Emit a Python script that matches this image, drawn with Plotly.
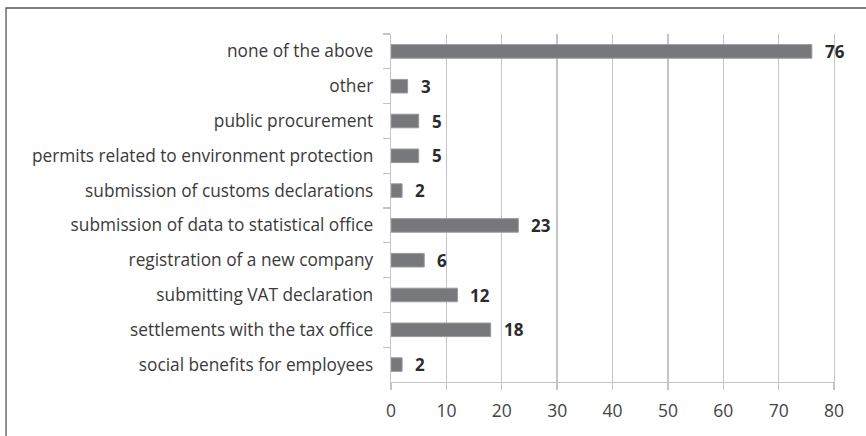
import plotly.graph_objects as go

categories = [
    "none of the above",
    "other",
    "public procurement",
    "permits related to environment protection",
    "submission of customs declarations",
    "submission of data to statistical office",
    "registration of a new company",
    "submitting VAT declaration",
    "settlements with the tax office",
    "social benefits for employees",
]
values = [76, 3, 5, 5, 2, 23, 6, 12, 18, 2]
x_ticks = [0, 10, 20, 30, 40, 50, 60, 70, 80]

FONT = "Open Sans"
GRID = "#c3c3c9"

fig = go.Figure()
fig.add_trace(go.Bar(
    x=values, y=categories, orientation="h",
    marker=dict(color="#77787b", line=dict(color="#9a9a9d", width=1)),
    width=0.39, hoverinfo="skip",
))

for v, c in zip(values, categories):
    fig.add_annotation(
        x=v, y=c, xref="x", yref="y", text=f"<b>{v}</b>", showarrow=False,
        xanchor="left", xshift=11, font=dict(family=FONT, size=17, color="#2b2b2b"),
    )

fig.add_shape(type="rect", xref="paper", yref="paper",
              x0=-0.869, x1=2.0, y0=-0.6, y1=1.0747,
              line=dict(color="#555555", width=1.3), layer="above")

fig.update_layout(
    width=866, height=436,
    margin=dict(l=391, r=32, t=34, b=54, autoexpand=False),
    paper_bgcolor="white", plot_bgcolor="white",
    showlegend=False,
    font=dict(family=FONT, size=17, color="#3a3a3a"),
    xaxis=dict(
        range=[0, 80], tickvals=x_ticks, showgrid=True, gridcolor=GRID, gridwidth=1.3,
        zeroline=False, showline=True, linecolor=GRID, linewidth=1.3,
        ticks="outside", ticklen=7, tickcolor=GRID, tickwidth=1.3,
        ticklabelstandoff=6, automargin=False,
        tickfont=dict(family=FONT, size=17.5, color="#444444"), fixedrange=True,
    ),
    yaxis=dict(
        categoryorder="array", categoryarray=categories, autorange="reversed",
        showline=True, mirror=True, linecolor=GRID, linewidth=1.3, showgrid=False,
        ticks="outside", ticklen=7, tickcolor=GRID, tickwidth=1.3, tickson="boundaries",
        ticklabelstandoff=13, automargin=False,
        tickfont=dict(family=FONT, size=17.3, color="#3a3a3a"), fixedrange=True,
    ),
)

fig.write_html(
    "out.html",
    config={"displayModeBar": False, "staticPlot": True},
    post_script="document.body.style.margin='0';document.body.style.overflow='hidden';",
)
